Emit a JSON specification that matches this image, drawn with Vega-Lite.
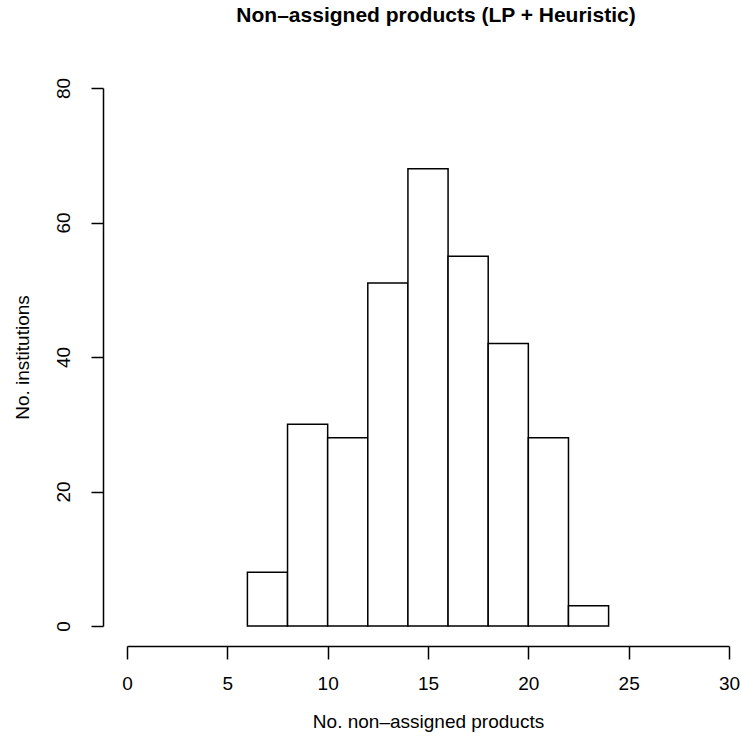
{
  "$schema": "https://vega.github.io/schema/vega-lite/v6.json",
  "autosize": "none",
  "width": 602,
  "height": 538,
  "padding": {"left": 127, "top": 88, "right": 13, "bottom": 115},
  "background": "white",
  "title": {
    "text": "Non–assigned products (LP + Heuristic)",
    "font": "Liberation Sans",
    "fontWeight": "bold",
    "fontSize": 21,
    "color": "black",
    "anchor": "middle",
    "offset": 51,
    "dx": 8
  },
  "data": {
    "values": [
      {"bin_start": 6, "bin_end": 8, "count": 8},
      {"bin_start": 8, "bin_end": 10, "count": 30},
      {"bin_start": 10, "bin_end": 12, "count": 28},
      {"bin_start": 12, "bin_end": 14, "count": 51},
      {"bin_start": 14, "bin_end": 16, "count": 68},
      {"bin_start": 16, "bin_end": 18, "count": 55},
      {"bin_start": 18, "bin_end": 20, "count": 42},
      {"bin_start": 20, "bin_end": 22, "count": 28},
      {"bin_start": 22, "bin_end": 24, "count": 3}
    ]
  },
  "mark": {"type": "rect", "fill": "white", "stroke": "black", "strokeWidth": 1.5},
  "encoding": {
    "x": {
      "field": "bin_start",
      "type": "quantitative",
      "scale": {"domain": [0, 30], "nice": false, "zero": false},
      "axis": {
        "title": "No. non–assigned products",
        "values": [0, 5, 10, 15, 20, 25, 30],
        "offset": 20,
        "tickSize": 13,
        "labelPadding": 15,
        "titlePadding": 19,
        "grid": false
      }
    },
    "x2": {"field": "bin_end"},
    "y": {
      "field": "count",
      "type": "quantitative",
      "scale": {"domain": [0, 80], "nice": false},
      "axis": {
        "title": "No. institutions",
        "values": [0, 20, 40, 60, 80],
        "offset": 24,
        "tickSize": 12,
        "labelAngle": -90,
        "labelAlign": "center",
        "labelBaseline": "bottom",
        "labelPadding": 18,
        "titlePadding": 22,
        "grid": false
      }
    },
    "y2": {"datum": 0}
  },
  "config": {
    "view": {"stroke": null},
    "axis": {
      "domainColor": "black",
      "tickColor": "black",
      "labelColor": "black",
      "titleColor": "black",
      "labelFont": "Liberation Sans",
      "titleFont": "Liberation Sans",
      "labelFontSize": 19,
      "titleFontSize": 19,
      "titleFontWeight": "normal",
      "domainWidth": 1.5,
      "tickWidth": 1.5,
      "labelFlush": false,
      "labelOverlap": false
    }
  }
}
